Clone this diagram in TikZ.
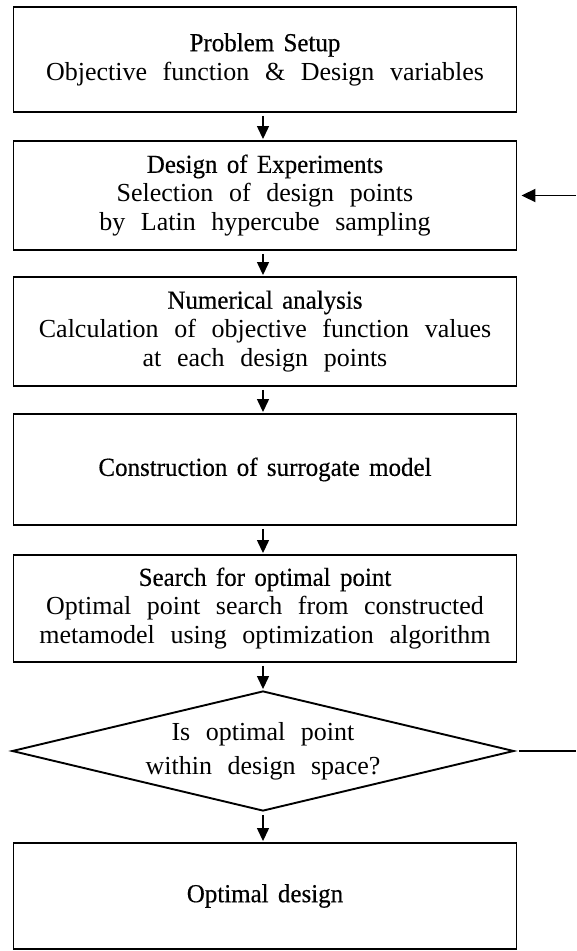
\documentclass[tikz,border=0pt]{standalone}
\usepackage{fontspec}
\setmainfont{Liberation Serif}[WordSpace=2.4]
\newfontfamily\titlefont{Liberation Serif}[FakeStretch=0.96,FakeBold=0.4,WordSpace=1.5]
\usetikzlibrary{arrows.meta,shapes.geometric}
\begin{document}
\begin{tikzpicture}[x=1pt,y=-1pt,
  stepbox/.style={draw,line width=1.9pt,minimum width=503pt,inner sep=0pt,
    align=center,font=\fontsize{26pt}{29pt}\selectfont},
  decision/.style={draw,line width=1.9pt,diamond,aspect=4.2,inner sep=0pt,
    minimum width=502pt,minimum height=120pt,align=center,
    font=\fontsize{26pt}{29pt}\selectfont},
  flow/.style={line width=1.3pt,-{Triangle[length=13pt,width=12pt]},
    shorten <=3pt,shorten >=1pt}]
\useasboundingbox (0,0) rectangle (576,951);
\node[stepbox,minimum height=105pt] (b1) at (265,59.5)
  {{\titlefont Problem Setup}\\Objective function \& Design variables};
\node[stepbox,minimum height=109pt] (b2) at (265,195.5)
  {{\titlefont Design of Experiments}\\Selection of design points\\by Latin hypercube sampling};
\node[stepbox,minimum height=109pt] (b3) at (265,331.5)
  {{\titlefont Numerical analysis}\\Calculation of objective function values\\at each design points};
\node[stepbox,minimum height=111pt] (b4) at (265,469.5)
  {{\titlefont Construction of surrogate model}};
\node[stepbox,minimum height=107pt] (b5) at (265,608.5)
  {{\titlefont Search for optimal point}\\Optimal point search from constructed\\metamodel using optimization algorithm};
\node[decision] (d) at (263,751)
  {Is optimal point\\[5pt]within design space?};
\node[stepbox,minimum height=106pt] (b6) at (265,896)
  {{\titlefont Optimal design}};
\coordinate (r1) at (576,751);
\coordinate (r2) at (576,195.5);
\draw[flow] (b1.south -| d.north) -- (b2.north -| d.north);
\draw[flow] (b2.south -| d.north) -- (b3.north -| d.north);
\draw[flow] (b3.south -| d.north) -- (b4.north -| d.north);
\draw[flow] (b4.south -| d.north) -- (b5.north -| d.north);
\draw[flow] (b5.south -| d.north) -- (d.north);
\draw[flow] (d.south) -- (b6.north -| d.south);
\draw[line width=1.9pt,shorten <=4pt] (d.east) -- (r1);
\draw[line width=1.9pt,-{Triangle[length=14pt,width=13pt]},shorten >=4pt] (r2) -- (b2.east);
\end{tikzpicture}
\end{document}
